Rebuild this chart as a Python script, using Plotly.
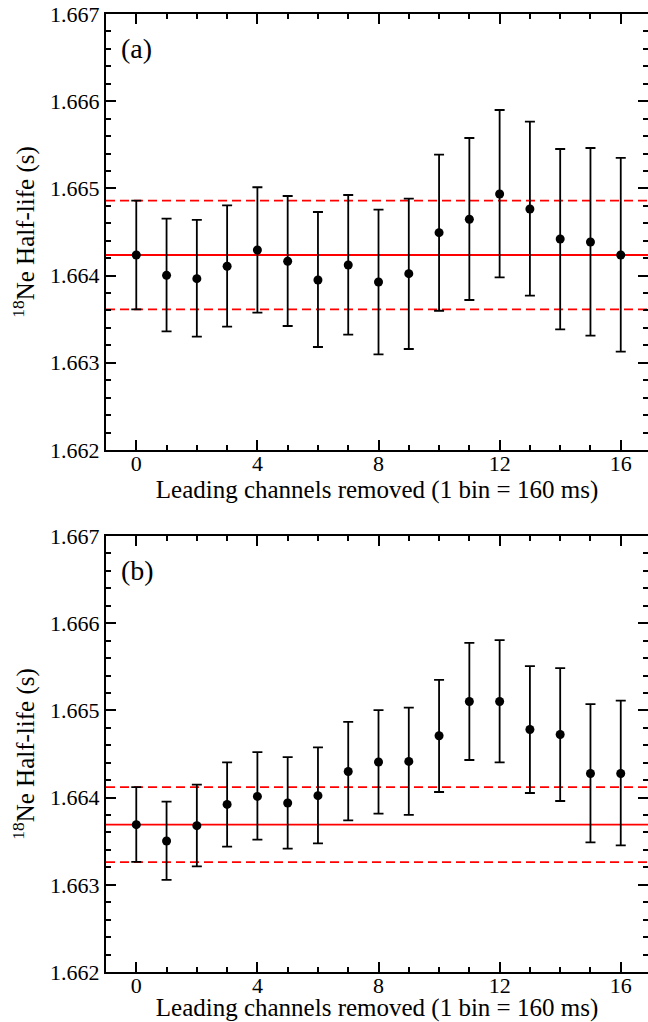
import plotly.graph_objects as go

# Leading channels removed (bins of 160 ms)
channels = list(range(17))

# Panel (a): fitted 18Ne half-life (s) and asymmetric error bounds
half_life_a = [1.664236, 1.664003, 1.663965, 1.664107, 1.664294, 1.664164, 1.663950, 1.664122,
               1.663927, 1.664022, 1.664492, 1.664646, 1.664936, 1.664764, 1.664420, 1.664385, 1.664236]
upper_a = [1.664859, 1.664653, 1.664638, 1.664806, 1.665013, 1.664913, 1.664729, 1.664924,
           1.664756, 1.664882, 1.665387, 1.665578, 1.665899, 1.665765, 1.665452, 1.665463, 1.665349]
lower_a = [1.663613, 1.663361, 1.663299, 1.663414, 1.663575, 1.663422, 1.663181, 1.663322,
           1.663097, 1.663158, 1.663597, 1.663720, 1.663980, 1.663770, 1.663384, 1.663311, 1.663127]
mean_a = 1.664236
band_a = 0.000624

# Panel (b)
half_life_b = [1.663690, 1.663503, 1.663678, 1.663922, 1.664014, 1.663938, 1.664022, 1.664300,
               1.664408, 1.664415, 1.664709, 1.665102, 1.665102, 1.664781, 1.664724, 1.664277, 1.664277]
upper_b = [1.664121, 1.663953, 1.664148, 1.664403, 1.664522, 1.664465, 1.664575, 1.664869,
           1.665003, 1.665033, 1.665351, 1.665774, 1.665805, 1.665507, 1.665485, 1.665072, 1.665113]
lower_b = [1.663262, 1.663056, 1.663212, 1.663438, 1.663518, 1.663415, 1.663475, 1.663739,
           1.663816, 1.663801, 1.664064, 1.664431, 1.664403, 1.664053, 1.663961, 1.663487, 1.663452]
mean_b = 1.663690
band_b = 0.000430

y_ticks = [1.662, 1.663, 1.664, 1.665, 1.666, 1.667]
x_ticks = [0, 4, 8, 12, 16]

FONT = "Liberation Serif, Times New Roman, serif"
panels = [
    ("(a)", half_life_a, upper_a, lower_a, mean_a, band_a, "x", "y"),
    ("(b)", half_life_b, upper_b, lower_b, mean_b, band_b, "x2", "y2"),
]

fig = go.Figure()
shapes = []
annotations = []
for label, vals, up, lo, mean, band, xa, ya in panels:
    fig.add_trace(go.Scatter(
        x=channels, y=vals, xaxis=xa, yaxis=ya, mode="markers",
        marker=dict(color="black", size=9),
        error_y=dict(type="data", symmetric=False,
                     array=[u - v for u, v in zip(up, vals)],
                     arrayminus=[v - l for v, l in zip(vals, lo)],
                     color="black", thickness=1.8, width=5),
        showlegend=False,
    ))
    xref_dom = xa + " domain"
    # weighted mean (solid) and its uncertainty band (dashed)
    shapes.append(dict(type="line", xref=xref_dom, yref=ya, x0=0, x1=1, y0=mean, y1=mean,
                       line=dict(color="#ff0000", width=1.8), layer="below"))
    for yv in (mean + band, mean - band):
        shapes.append(dict(type="line", xref=xref_dom, yref=ya, x0=0, x1=1, y0=yv, y1=yv,
                           line=dict(color="#ff0000", width=1.8, dash="9px,5px"), layer="below"))
    annotations.append(dict(text=label, xref=xref_dom, yref=ya + " domain", x=0.024, y=0.92,
                            xanchor="left", yanchor="middle", showarrow=False,
                            font=dict(family=FONT, size=28, color="black")))

axis_common = dict(
    showline=True, linecolor="black", linewidth=2, mirror="allticks",
    ticks="inside", ticklen=10, tickwidth=2, tickcolor="black",
    showgrid=False, zeroline=False,
    tickfont=dict(family=FONT, size=22, color="black"),
)
x_common = dict(axis_common, range=[-1, 16.9], tickvals=x_ticks, ticklabelstandoff=-7,
                minor=dict(ticks="inside", ticklen=5, tickwidth=1.5, dtick=1, tick0=0,
                           tickcolor="black", showgrid=False),
                title=dict(text="Leading channels removed (1 bin = 160 ms)",
                           font=dict(family=FONT, size=25, color="black"), standoff=0))
y_common = dict(axis_common, range=[1.662, 1.667], tickvals=y_ticks, tickformat=".3f",
                minor=dict(ticks="inside", ticklen=5, tickwidth=1.5, dtick=0.0002, tick0=1.662,
                           tickcolor="black", showgrid=False),
                title=dict(text="<sup>18</sup>Ne Half-life (s)",
                           font=dict(family=FONT, size=25, color="black"), standoff=8))

fig.update_layout(
    width=648, height=1022,
    margin=dict(l=106, r=0, t=14, b=50, autoexpand=False),
    paper_bgcolor="white", plot_bgcolor="white",
    xaxis=dict(x_common, domain=[0, 1], anchor="y"),
    yaxis=dict(y_common, domain=[0.5449, 1.0], anchor="x"),
    xaxis2=dict(x_common, domain=[0, 1], anchor="y2"),
    yaxis2=dict(y_common, domain=[0.0, 0.4551], anchor="x2"),
    shapes=shapes,
    annotations=annotations,
)

fig.write_html("out.html")
